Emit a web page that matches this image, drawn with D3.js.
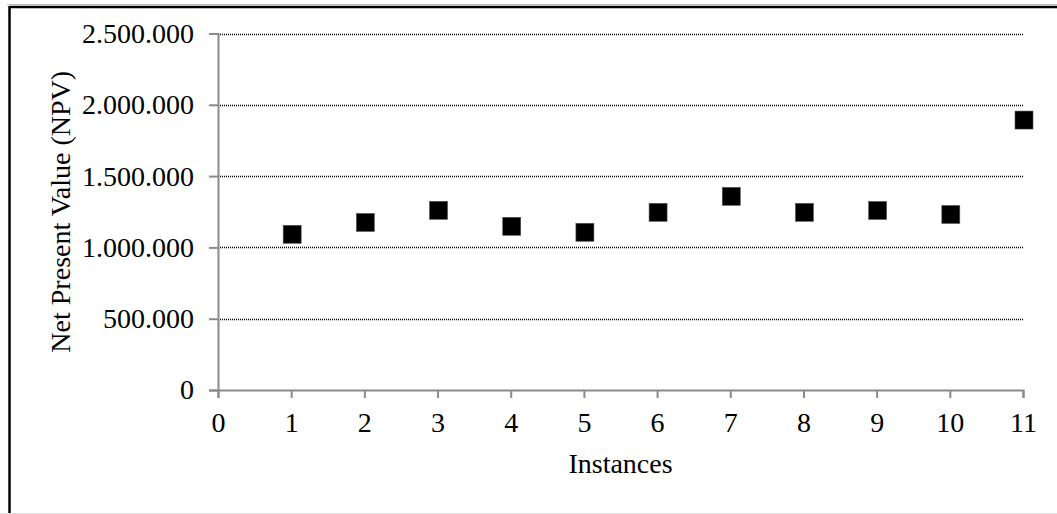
<!DOCTYPE html>
<html>
<head>
<meta charset="utf-8">
<script src="https://cdn.jsdelivr.net/npm/d3@7"></script>
<style>
  html, body { margin: 0; padding: 0; background: #fff; }
  svg { display: block; }
  text { font-family: "Liberation Serif", "Times New Roman", serif; fill: #000; }
</style>
</head>
<body>
<svg id="chart" width="1057" height="514"></svg>
<script>
// ---- data ----
const instances = [1, 2, 3, 4, 5, 6, 7, 8, 9, 10, 11];
const npvValues = [1092000, 1175000, 1260000, 1148000, 1106000, 1246000, 1358000, 1246000, 1259000, 1231000, 1893000];
const xTicks = [0, 1, 2, 3, 4, 5, 6, 7, 8, 9, 10, 11];
const yTicks = [0, 500000, 1000000, 1500000, 2000000, 2500000];
const xTitle = "Instances";
const yTitle = "Net Present Value (NPV)";

const W = 1057, H = 514;
const svg = d3.select("#chart");

// frame
svg.append("rect").attr("x", 0).attr("y", 0).attr("width", W).attr("height", H).attr("fill", "#fff");
svg.append("line").attr("x1", 7).attr("x2", W).attr("y1", 4.5).attr("y2", 4.5).attr("stroke", "#c0c0c0").attr("stroke-width", 1);
svg.append("line").attr("x1", 9.5).attr("x2", W).attr("y1", 7).attr("y2", 7).attr("stroke", "#000").attr("stroke-width", 2.5);
svg.append("line").attr("x1", 9.5).attr("x2", 9.5).attr("y1", 6).attr("y2", H).attr("stroke", "#000").attr("stroke-width", 2.5);
svg.append("line").attr("x1", 0).attr("x2", W).attr("y1", 513.5).attr("y2", 513.5).attr("stroke", "#dcdcdc").attr("stroke-width", 1);

const x = d3.scaleLinear().domain([0, 11]).range([218, 1023]);
const y = d3.scaleLinear().domain([0, 2500000]).range([390, 33.5]);

const locale = d3.formatLocale({ decimal: ",", thousands: ".", grouping: [3], currency: ["", ""] });
const fmt = locale.format(",d");

const fontSize = 28;

// gridlines
svg.append("g").selectAll("line")
  .data(yTicks.filter(d => d > 0))
  .join("line")
  .attr("x1", x(0)).attr("x2", x(11))
  .attr("y1", d => Math.round(y(d)) + 0.5).attr("y2", d => Math.round(y(d)) + 0.5)
  .attr("stroke", "#000").attr("stroke-width", 1.3)
  .attr("stroke-dasharray", "1,1");

// y axis
const yAxis = d3.axisLeft(y).tickValues(yTicks).tickFormat(fmt).tickSize(9).tickPadding(15);
const gy = svg.append("g").attr("transform", `translate(${x(0)},0)`).call(yAxis);
gy.select(".domain").attr("stroke", "#8a8a8a").attr("stroke-width", 2);
gy.selectAll(".tick line").attr("stroke", "#8a8a8a").attr("stroke-width", 2);
gy.selectAll(".tick text")
  .style("font-family", '"Liberation Serif", "Times New Roman", serif')
  .style("font-size", fontSize + "px").attr("fill", "#000");

// x axis
const xAxis = d3.axisBottom(x).tickValues(xTicks).tickFormat(d3.format("d")).tickSize(8).tickPadding(14);
const gx = svg.append("g").attr("transform", `translate(0,${y(0)})`).call(xAxis);
gx.select(".domain").attr("stroke", "#8a8a8a").attr("stroke-width", 2);
gx.selectAll(".tick line").attr("stroke", "#8a8a8a").attr("stroke-width", 2);
gx.selectAll(".tick text")
  .style("font-family", '"Liberation Serif", "Times New Roman", serif')
  .style("font-size", fontSize + "px").attr("fill", "#000");

// points
const size = 18;
svg.append("g").selectAll("rect")
  .data(instances.map((d, i) => ({ x: d, v: npvValues[i] })))
  .join("rect")
  .attr("x", d => x(d.x) + 1 - size / 2)
  .attr("y", d => y(d.v) - size / 2)
  .attr("width", size).attr("height", size)
  .attr("fill", "#000")
  .attr("stroke", "#555").attr("stroke-width", 0.6);

// titles
svg.append("text")
  .attr("x", (x(0) + x(11)) / 2).attr("y", 473)
  .attr("text-anchor", "middle")
  .style("font-size", fontSize + "px")
  .text(xTitle);

svg.append("text")
  .attr("transform", `translate(70,${(y(0) + y(2500000)) / 2}) rotate(-90)`)
  .attr("text-anchor", "middle")
  .style("font-size", fontSize + "px")
  .text(yTitle);
</script>
</body>
</html>
